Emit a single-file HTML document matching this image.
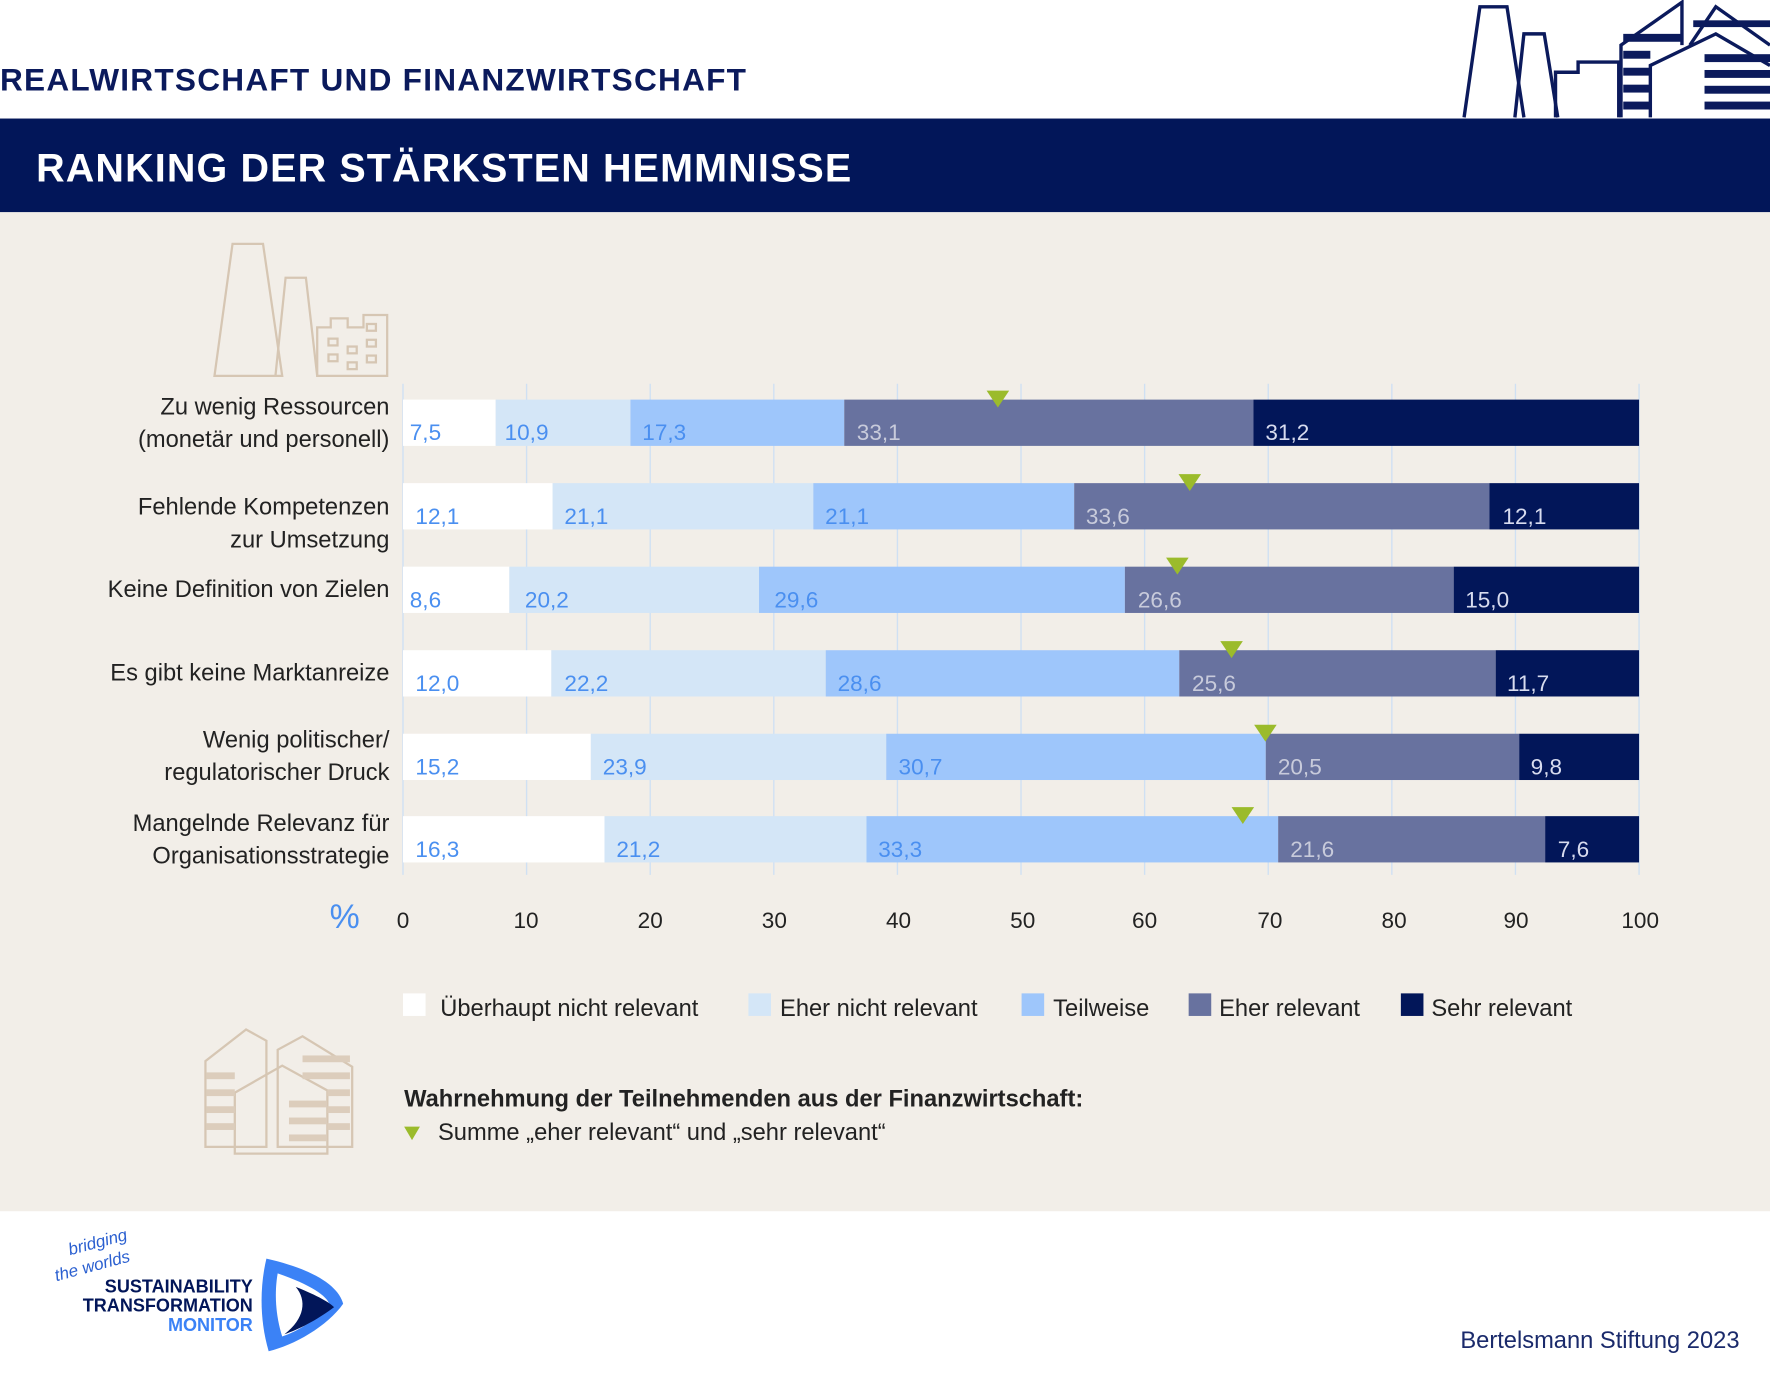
<!DOCTYPE html>
<html><head><meta charset="utf-8"><style>
html,body{margin:0;padding:0;background:#fff}
svg{display:block}
text{font-family:"Liberation Sans",sans-serif}
</style></head><body>
<svg width="1770" height="1380" viewBox="0 0 1568 1222.5" xmlns="http://www.w3.org/2000/svg">
<rect width="1568" height="1222.5" fill="#fff"/>
<text x="0" y="80" font-size="28" font-weight="bold" fill="#0b1a5c" letter-spacing="1.1">REALWIRTSCHAFT UND FINANZWIRTSCHAFT</text>
<g fill="none" stroke="#0b1a5c" stroke-width="3">
<path d="M1297 104 L1311 6 L1335 6 L1350 104"/>
<path d="M1342 104 L1350 30 L1368 30 L1380 104"/>
<path d="M1378 104 V64 H1398 V55 H1434 V104"/>
<path d="M1436 104 V40 L1490 2 V40"/>
<path d="M1462 104 V58 L1520 30 L1568 58"/>
<path d="M1497 40 L1520 6 L1568 40"/>
</g>
<g fill="#0b1a5c">
<rect x="1438" y="30" width="52" height="7"/><rect x="1438" y="45" width="24" height="7"/><rect x="1438" y="60" width="24" height="7"/><rect x="1438" y="75" width="24" height="7"/><rect x="1438" y="90" width="24" height="7"/>
<rect x="1510" y="48" width="58" height="7"/><rect x="1510" y="62" width="58" height="7"/><rect x="1510" y="76" width="58" height="7"/><rect x="1510" y="90" width="58" height="7"/>
<rect x="1500" y="18" width="68" height="6"/>
</g>
<rect x="0" y="105" width="1568" height="83" fill="#021659"/>
<text x="32" y="161" font-size="35" font-weight="bold" fill="#fff" letter-spacing="1">RANKING DER STÄRKSTEN HEMMNISSE</text>
<rect x="0" y="188" width="1568" height="885" fill="#f2eee8"/>
<g fill="none" stroke="#d6c6b3" stroke-width="2">
<path d="M190 333 L206 216 L233 216 L250 333 Z"/>
<path d="M244 333 L253 246 L271 246 L281 333"/>
<path d="M281 333 V290 H293 V282 H308 V290 H322 V279 H343 V333 Z"/>
<rect x="291" y="300" width="8" height="6"/><rect x="325" y="287" width="8" height="6"/><rect x="325" y="301" width="8" height="6"/><rect x="308" y="307" width="8" height="6"/><rect x="291" y="314" width="8" height="6"/><rect x="325" y="315" width="8" height="6"/><rect x="308" y="321" width="8" height="6"/>
</g>
<g stroke="#cfe0f3" stroke-width="1.2">
<line x1="357" y1="340" x2="357" y2="775"/><line x1="466.5" y1="340" x2="466.5" y2="775"/><line x1="576" y1="340" x2="576" y2="775"/><line x1="685.5" y1="340" x2="685.5" y2="775"/><line x1="795" y1="340" x2="795" y2="775"/><line x1="904.5" y1="340" x2="904.5" y2="775"/><line x1="1014" y1="340" x2="1014" y2="775"/><line x1="1123.5" y1="340" x2="1123.5" y2="775"/><line x1="1233" y1="340" x2="1233" y2="775"/><line x1="1342.5" y1="340" x2="1342.5" y2="775"/><line x1="1452" y1="340" x2="1452" y2="775"/>
</g>
<!-- bars -->
<g>
<rect x="357" y="354" width="82.1" height="41" fill="#fff"/><rect x="439.1" y="354" width="119.4" height="41" fill="#d4e6f7"/><rect x="558.5" y="354" width="189.4" height="41" fill="#9ec6fb"/><rect x="747.9" y="354" width="362.5" height="41" fill="#68729f"/><rect x="1110.4" y="354" width="341.6" height="41" fill="#021659"/>
<rect x="357" y="428" width="132.5" height="41" fill="#fff"/><rect x="489.5" y="428" width="231" height="41" fill="#d4e6f7"/><rect x="720.5" y="428" width="231.1" height="41" fill="#9ec6fb"/><rect x="951.6" y="428" width="367.9" height="41" fill="#68729f"/><rect x="1319.5" y="428" width="132.5" height="41" fill="#021659"/>
<rect x="357" y="502" width="94.2" height="41" fill="#fff"/><rect x="451.2" y="502" width="221.2" height="41" fill="#d4e6f7"/><rect x="672.4" y="502" width="324.1" height="41" fill="#9ec6fb"/><rect x="996.5" y="502" width="291.3" height="41" fill="#68729f"/><rect x="1287.8" y="502" width="164.2" height="41" fill="#021659"/>
<rect x="357" y="576" width="131.4" height="41" fill="#fff"/><rect x="488.4" y="576" width="243.1" height="41" fill="#d4e6f7"/><rect x="731.5" y="576" width="313.2" height="41" fill="#9ec6fb"/><rect x="1044.7" y="576" width="280.3" height="41" fill="#68729f"/><rect x="1325" y="576" width="127" height="41" fill="#021659"/>
<rect x="357" y="650" width="166.4" height="41" fill="#fff"/><rect x="523.4" y="650" width="261.7" height="41" fill="#d4e6f7"/><rect x="785.1" y="650" width="336.2" height="41" fill="#9ec6fb"/><rect x="1121.3" y="650" width="224.5" height="41" fill="#68729f"/><rect x="1345.8" y="650" width="106.2" height="41" fill="#021659"/>
<rect x="357" y="723" width="178.5" height="41" fill="#fff"/><rect x="535.5" y="723" width="232.1" height="41" fill="#d4e6f7"/><rect x="767.6" y="723" width="364.7" height="41" fill="#9ec6fb"/><rect x="1132.3" y="723" width="236.5" height="41" fill="#68729f"/><rect x="1368.8" y="723" width="83.2" height="41" fill="#021659"/>
</g>
<g font-size="20">
<g fill="#4a8ff0">
<text x="363" y="390">7,5</text><text x="447" y="390">10,9</text><text x="569" y="390">17,3</text>
<text x="368" y="464">12,1</text><text x="500" y="464">21,1</text><text x="731" y="464">21,1</text>
<text x="363" y="538">8,6</text><text x="465" y="538">20,2</text><text x="686" y="538">29,6</text>
<text x="368" y="612">12,0</text><text x="500" y="612">22,2</text><text x="742" y="612">28,6</text>
<text x="368" y="686">15,2</text><text x="534" y="686">23,9</text><text x="796" y="686">30,7</text>
<text x="368" y="759">16,3</text><text x="546" y="759">21,2</text><text x="778" y="759">33,3</text>
</g>
<g fill="#c8cbdb">
<text x="759" y="390">33,1</text><text x="962" y="464">33,6</text><text x="1008" y="538">26,6</text><text x="1056" y="612">25,6</text><text x="1132" y="686">20,5</text><text x="1143" y="759">21,6</text>
</g>
<g fill="#d8dcef">
<text x="1121" y="390">31,2</text><text x="1331" y="464">12,1</text><text x="1298" y="538">15,0</text><text x="1335" y="612">11,7</text><text x="1356" y="686">9,8</text><text x="1380" y="759">7,6</text>
</g>
</g>
<g fill="#9bbb2b">
<path d="M874 346 L894 346 L884 361 Z"/>
<path d="M1044 420 L1064 420 L1054 435 Z"/>
<path d="M1033 494 L1053 494 L1043 509 Z"/>
<path d="M1081 568 L1101 568 L1091 583 Z"/>
<path d="M1111 642 L1131 642 L1121 657 Z"/>
<path d="M1091 715 L1111 715 L1101 730 Z"/>
</g>
<g font-size="21" fill="#222" text-anchor="end">
<text x="345" y="367">Zu wenig Ressourcen</text><text x="345" y="396">(monetär und personell)</text>
<text x="345" y="456">Fehlende Kompetenzen</text><text x="345" y="485">zur Umsetzung</text>
<text x="345" y="529">Keine Definition von Zielen</text>
<text x="345" y="603">Es gibt keine Marktanreize</text>
<text x="345" y="662">Wenig politischer/</text><text x="345" y="691">regulatorischer Druck</text>
<text x="345" y="736">Mangelnde Relevanz für</text><text x="345" y="765">Organisationsstrategie</text>
</g>
<text x="292" y="822" font-size="30" fill="#4a8ff0">%</text>
<g font-size="20" fill="#222" text-anchor="middle">
<text x="357" y="822">0</text><text x="466" y="822">10</text><text x="576" y="822">20</text><text x="686" y="822">30</text><text x="796" y="822">40</text><text x="906" y="822">50</text><text x="1014" y="822">60</text><text x="1125" y="822">70</text><text x="1235" y="822">80</text><text x="1343" y="822">90</text><text x="1453" y="822">100</text>
</g>
<g font-size="21" fill="#222">
<rect x="357" y="880" width="20" height="20" fill="#fff"/><text x="390" y="900">Überhaupt nicht relevant</text>
<rect x="663" y="880" width="20" height="20" fill="#d4e6f7"/><text x="691" y="900">Eher nicht relevant</text>
<rect x="905" y="880" width="20" height="20" fill="#9ec6fb"/><text x="933" y="900">Teilweise</text>
<rect x="1053" y="880" width="20" height="20" fill="#68729f"/><text x="1080" y="900">Eher relevant</text>
<rect x="1241" y="880" width="20" height="20" fill="#021659"/><text x="1268" y="900">Sehr relevant</text>
</g>
<g fill="none" stroke="#d6c6b3" stroke-width="2">
<path d="M182 1016 V940 L218 912 L236 922 V1016 Z"/>
<path d="M246 1016 V930 L268 918 L312 945 V1016 Z"/>
<path d="M208 1022 V968 L250 944 L290 966 V1022 Z"/>
</g>
<g fill="#dccdbc"><rect x="183" y="950" width="25" height="6"/><rect x="183" y="965" width="25" height="6"/><rect x="183" y="980" width="25" height="6"/><rect x="183" y="995" width="25" height="6"/><rect x="268" y="935" width="42" height="6"/><rect x="268" y="950" width="42" height="6"/><rect x="290" y="965" width="20" height="6"/><rect x="290" y="980" width="20" height="6"/><rect x="290" y="995" width="20" height="6"/><rect x="256" y="975" width="33" height="6"/><rect x="256" y="990" width="33" height="6"/><rect x="256" y="1005" width="33" height="6"/></g>
<text x="358" y="980" font-size="21" font-weight="bold" fill="#222">Wahrnehmung der Teilnehmenden aus der Finanzwirtschaft:</text>
<path d="M358 998 L372 998 L365 1010 Z" fill="#9bbb2b"/>
<text x="388" y="1010" font-size="21" fill="#222">Summe „eher relevant“ und „sehr relevant“</text>
<text x="62" y="1112" font-size="15" font-style="italic" fill="#2a5fd0" transform="rotate(-15 62 1112)">bridging</text>
<text x="50" y="1135" font-size="15" font-style="italic" fill="#2a5fd0" transform="rotate(-15 50 1135)">the worlds</text>
<g font-size="16" font-weight="bold" text-anchor="end">
<text x="224" y="1145" fill="#021659">SUSTAINABILITY</text>
<text x="224" y="1162" fill="#021659">TRANSFORMATION</text>
<text x="224" y="1179" fill="#3b82f6">MONITOR</text>
</g>
<path d="M236 1115 C280 1125 300 1140 304 1155 C290 1175 260 1192 238 1197 C230 1170 230 1140 236 1115 Z" fill="#3b82f6"/>
<path d="M246 1128 C275 1138 290 1148 292 1156 C280 1170 262 1180 250 1184 C244 1165 243 1145 246 1128 Z" fill="#fff"/>
<path d="M262 1140 C282 1148 292 1154 296 1158 C280 1170 264 1178 252 1182 C270 1168 272 1152 262 1140 Z" fill="#021659"/>
<text x="1541" y="1194" font-size="21" fill="#1a2a6b" text-anchor="end">Bertelsmann Stiftung 2023</text>
</svg>
</body></html>
